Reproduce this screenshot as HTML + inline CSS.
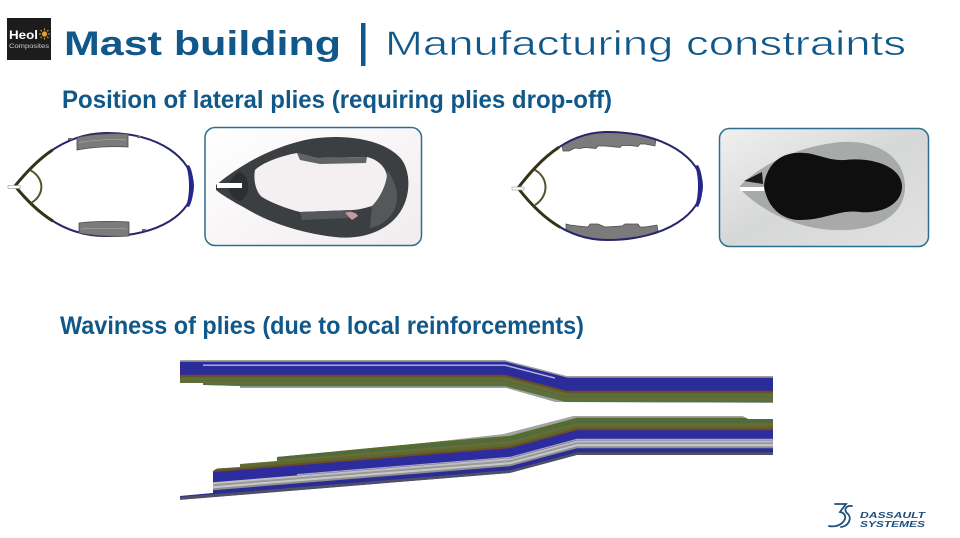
<!DOCTYPE html>
<html>
<head>
<meta charset="utf-8">
<style>
html,body{margin:0;padding:0;background:#fff;}
body{width:960px;height:538px;overflow:hidden;}
svg{display:block;}
text{font-family:"Liberation Sans",sans-serif;}
</style>
</head>
<body>
<svg width="960" height="538" viewBox="0 0 960 538" xmlns="http://www.w3.org/2000/svg">
<defs>
  <linearGradient id="bg2" x1="0" y1="0" x2="1" y2="1">
    <stop offset="0" stop-color="#f0f0f0"/>
    <stop offset="0.5" stop-color="#d6d7d7"/>
    <stop offset="1" stop-color="#e2e2e2"/>
  </linearGradient>
  <linearGradient id="bg1" x1="0" y1="0" x2="1" y2="1">
    <stop offset="0" stop-color="#ffffff"/>
    <stop offset="1" stop-color="#f1ecee"/>
  </linearGradient>
  <clipPath id="topClip">
    <polygon points="180,360 505,360 567,376 773,376 773,403 555,402 506,388 240,388 240,386 203,385 203,383 180,383"/>
  </clipPath>
  <clipPath id="botClip">
    <polygon points="180,500 510,473 577,455 773,455 773,419 748,419 743,416 573,416 503,434 423,443 277,457 277,461 240,464 240,467 217,468.5 213,471 213,493 180,496"/>
  </clipPath>
</defs>

<!-- Heol logo -->
<rect x="7" y="18" width="44" height="42" fill="#1c1c1c"/>
<text x="9" y="39" font-size="12" font-weight="bold" fill="#ffffff" textLength="29" lengthAdjust="spacingAndGlyphs">Heol</text>
<circle cx="44.5" cy="34" r="2.6" fill="#e8a12a"/>
<g stroke="#e8a12a" stroke-width="1.1">
  <line x1="44.5" y1="28.5" x2="44.5" y2="30.3"/>
  <line x1="44.5" y1="37.7" x2="44.5" y2="39.5"/>
  <line x1="39" y1="34" x2="40.8" y2="34"/>
  <line x1="48.2" y1="34" x2="50" y2="34"/>
  <line x1="40.6" y1="30.1" x2="41.8" y2="31.3"/>
  <line x1="47.2" y1="36.7" x2="48.4" y2="37.9"/>
  <line x1="48.4" y1="30.1" x2="47.2" y2="31.3"/>
  <line x1="41.8" y1="36.7" x2="40.6" y2="37.9"/>
</g>
<text x="9" y="48" font-size="6" fill="#cfcfcf" textLength="40" lengthAdjust="spacingAndGlyphs">Composites</text>

<!-- Title -->
<text x="64" y="55" font-size="34" font-weight="bold" fill="#11588a" textLength="277" lengthAdjust="spacingAndGlyphs">Mast building</text>
<rect x="361" y="23" width="4.5" height="43" fill="#11588a"/>
<text x="385" y="55" font-size="34" fill="#11588a" stroke="#ffffff" stroke-width="0.6" textLength="521" lengthAdjust="spacingAndGlyphs">Manufacturing constraints</text>

<!-- Subheadings -->
<text x="62" y="108" font-size="25" font-weight="bold" fill="#11588a" textLength="550" lengthAdjust="spacingAndGlyphs">Position of lateral plies (requiring plies drop-off)</text>
<text x="60" y="334" font-size="25" font-weight="bold" fill="#11588a" textLength="524" lengthAdjust="spacingAndGlyphs">Waviness of plies (due to local reinforcements)</text>

<!-- Cross-section diagram 1 -->
<g>
  <path d="M15,186 C32,165 60,134 105,133 C160,132 193,160 193,186 C193,212 160,237 105,236 C60,236 32,207 15,186 Z" fill="none" stroke="#26266e" stroke-width="2"/>
  <path d="M15,186 C32,165 60,134 105,133" fill="none" stroke="#33331a" stroke-width="3" stroke-dasharray="52 500"/>
  <path d="M15,186 C32,207 60,236 105,236" fill="none" stroke="#33331a" stroke-width="3" stroke-dasharray="52 500"/>
  <path d="M30,170 C45,178 45,195 31,203" fill="none" stroke="#55532a" stroke-width="2"/>
  <path d="M77,137.5 C92,134 112,133 128,134 L128,147 C112,146 92,147 77,150 Z" fill="#7b7b7b" stroke="#4a4a4a" stroke-width="0.8"/>
  <path d="M79,142.5 C95,140 112,139 126,140" fill="none" stroke="#a8a8a8" stroke-width="0.7"/>
  <path d="M79,223 C95,221 112,221 129,222 L129,236 C112,237 95,236 79,233 Z" fill="#7b7b7b" stroke="#4a4a4a" stroke-width="0.8"/>
  <path d="M81,229 C95,228 112,228 127,229" fill="none" stroke="#a8a8a8" stroke-width="0.7"/>
  <path d="M186,166 C190,176 190,196 186,206 L189,207 C195,197 195,175 189,165 Z" fill="#26268a"/>
  <rect x="8" y="185.5" width="12" height="3" fill="#ffffff" stroke="#9a9a9a" stroke-width="0.6"/>
  <rect x="68" y="138" width="4" height="2" fill="#6a6a6a"/>
  <rect x="137" y="136" width="4" height="2" fill="#6a6a6a"/>
  <rect x="142" y="229" width="4" height="2" fill="#6a6a6a"/>
</g>

<!-- Photo 1 -->
<g>
  <rect x="205" y="127.5" width="216.5" height="118" rx="10" fill="url(#bg1)" stroke="#2e6e8e" stroke-width="1.5"/>
  <path d="M216,185 C240,165 270,148 305,140 C340,133 385,138 402,160 C412,175 410,200 398,215 C385,232 360,240 335,237 C300,233 268,222 245,208 C232,201 222,195 216,190 Z" fill="#3b3f42"/>
  <path d="M255,170 C262,163 280,156 297,153 L317,158 L367,157 C380,160 388,170 387,180 C385,195 378,205 372,206 C365,208 358,210 352,210 L300,212 C285,208 272,203 262,197 C256,192 253,180 255,170 Z" fill="#f4f0f1"/>
  <path d="M297,153 L317,158 L367,157 L366,163 L320,164 L300,160 Z" fill="#606466"/>
  <path d="M300,212 L352,210 L350,218 L302,220 Z" fill="#56595b"/>
  <path d="M372,206 C382,196 388,180 387,170 C395,180 400,195 395,208 C390,220 380,226 370,228 Z" fill="#55585a"/>
  <path d="M345,213 C350,211 356,212 358,216 L352,220 Z" fill="#c79aa0"/>
  <path d="M240,172 C250,176 252,196 240,201 C235,200 230,195 228,188 C230,180 235,173 240,172 Z" fill="#2c2f31"/>
  <rect x="217" y="183" width="25" height="5" fill="#ffffff"/>
</g>

<!-- Cross-section diagram 2 -->
<g>
  <path d="M562,145.5 L571,140 L581,136 L593,133 L605,132 L630,133 L645,136 L656,139 L655,146 L645,144 L640,144 L638,146.5 L630,145.5 L622,145.5 L620,147.5 L605,146 L598,146 L596,148.5 L585,147.5 L580,148.5 L575,148 L569,151 L563,151 Z" fill="#7b7b7b" stroke="#4a4a4a" stroke-width="0.7"/>
  <path d="M566,231 L582,236.7 L594,239 L607,240 L630,239 L648,235 L658,231 L657,225 L645,227 L640,227 L638,224 L625,224 L622,226 L605,227 L598,224 L590,224 L588,227 L578,226 L570,225 L566,224 Z" fill="#7b7b7b" stroke="#4a4a4a" stroke-width="0.7"/>
  <path d="M518,188 C535,166 563,133 605,132 C665,131 702,160 702,186 C702,212 668,240 607,240 C563,240 535,210 518,188 Z" fill="none" stroke="#26266e" stroke-width="2"/>
  <path d="M518,188 C535,166 563,133 605,132" fill="none" stroke="#33331a" stroke-width="3" stroke-dasharray="58 500"/>
  <path d="M518,188 C535,210 563,240 607,240" fill="none" stroke="#33331a" stroke-width="3" stroke-dasharray="58 500"/>
  <path d="M535,170 C549,178 549,196 535,205" fill="none" stroke="#55532a" stroke-width="2"/>
  <path d="M695,166 C699,176 699,196 695,206 L698,207 C704,197 704,175 698,165 Z" fill="#26268a"/>
  <rect x="512" y="187" width="12" height="3" fill="#ffffff" stroke="#9a9a9a" stroke-width="0.6"/>
</g>

<!-- Photo 2 -->
<g>
  <rect x="719.5" y="128.5" width="209" height="118" rx="10" fill="url(#bg2)" stroke="#2e6e8e" stroke-width="1.5"/>
  <path d="M740,186 C760,165 800,145 842,142 C882,140 904,160 905,185 C906,210 885,229 845,230 C800,232 760,210 740,189 Z" fill="#a8aaa9"/>
  <path d="M764,185 C766,170 775,155 795,153 C815,151 825,161 845,160 C870,157 900,165 902,185 C903,205 880,214 860,212 C840,209 825,220 800,220 C780,220 766,205 764,185 Z" fill="#0f0f0f"/>
  <path d="M744,181 L762,172 L763,184 Z" fill="#1a1a1a"/>
  <rect x="740" y="187" width="24" height="4" fill="#ffffff"/>
</g>

<!-- Waviness: top band -->
<g clip-path="url(#topClip)" fill="none">
  <polygon points="180,360 505,360 567,376 773,376 773,403 555,402 506,388 240,388 240,386 203,385 203,383 180,383" fill="#9fa19f"/>
  <polyline points="175,368.5 505,368.5 567,384.5 780,384.5" stroke="#2b2b99" stroke-width="13.4"/>
  <polyline points="203,365.2 505,365.2 555,378.1" stroke="#b4b4dc" stroke-width="1.4"/>
  <polyline points="175,376 505,376 567,392 780,392" stroke="#6d4a2c" stroke-width="2.4"/>
  <polyline points="175,378 505,378 567,394 780,394" stroke="#5c6d2c" stroke-width="2.4"/>
  <polyline points="175,379.5 505,379.5 567,395.5 780,395.5" stroke="#7c6a3a" stroke-width="1.2"/>
  <polyline points="175,381 505,381 567,397 780,397" stroke="#4f6e3f" stroke-width="2.4"/>
  <polyline points="175,383 505,383 567,399 780,399" stroke="#6b6b35" stroke-width="2.4"/>
  <polyline points="175,385 505,385 567,401 780,401" stroke="#56703f" stroke-width="2.4"/>
</g>

<!-- Waviness: bottom band -->
<g clip-path="url(#botClip)" fill="none">
  <polygon points="180,500 510,473 577,455 773,455 773,419 748,419 743,416 573,416 503,434 423,443 277,457 277,461 240,464 240,467 217,468.5 213,471 213,493 180,496" fill="#a3a5a3"/>
  <polyline points="175,498.6 510,471.5 577,453.5 780,453.5" stroke="#4f5068" stroke-width="3.4"/>
  <polyline points="175,495.1 510,468 577,450 780,450" stroke="#2b2b95" stroke-width="4.4"/>
  <polyline points="175,492.1 510,465 577,447 780,447" stroke="#8f8f8f" stroke-width="2.4"/>
  <polyline points="175,490.1 510,463 577,445 780,445" stroke="#c8c8c8" stroke-width="2.4"/>
  <polyline points="175,488.1 510,461 577,443 780,443" stroke="#9a9a9a" stroke-width="2.4"/>
  <polyline points="175,486.1 510,459 577,441 780,441" stroke="#c0c0c0" stroke-width="2.4"/>
  <polyline points="175,480.1 510,453 577,435 780,435" stroke="#2c2c9e" stroke-width="10.4"/>
  <polyline points="297,474.6 510,457.4 577,439.4 780,439.4" stroke="#a8a8c0" stroke-width="1.2"/>
  <polyline points="175,474.1 510,447 577,429 780,429" stroke="#6d4a2c" stroke-width="2.4"/>
  <polyline points="175,471.6 510,444.5 577,426.5 780,426.5" stroke="#5b6b2c" stroke-width="3.4"/>
  <polyline points="175,469.1 510,442 577,424 780,424" stroke="#6f6a3a" stroke-width="2.4"/>
  <polyline points="175,466.6 510,439.5 577,421.5 780,421.5" stroke="#4e6c3e" stroke-width="3.4"/>
  <polyline points="175,464.1 510,437 577,419 780,419" stroke="#5b6b2c" stroke-width="2.4"/>
</g>

<!-- Dassault Systemes logo -->
<g fill="none" stroke="#1d4f7e" stroke-width="1.8" stroke-linecap="round">
  <path d="M835,504 L846,504 L840,512 C846,513 847,519 842,523 C839,526 833,527 829,526"/>
  <path d="M852,506 C846,505 843,510 848,514 C852,518 849,526 841,527"/>
</g>
<text x="860" y="518" font-size="8" font-weight="bold" font-style="italic" fill="#1d4f7e" textLength="65" lengthAdjust="spacingAndGlyphs">DASSAULT</text>
<text x="860" y="527" font-size="8" font-weight="bold" font-style="italic" fill="#1d4f7e" textLength="65" lengthAdjust="spacingAndGlyphs">SYSTEMES</text>
</svg>
</body>
</html>
